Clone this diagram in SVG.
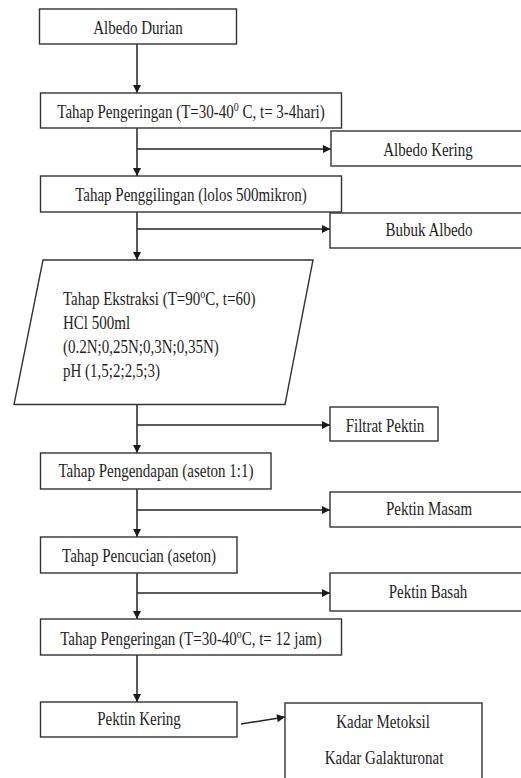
<svg xmlns="http://www.w3.org/2000/svg" width="521" height="778" viewBox="0 0 521 778">
<defs>
<marker id="ah" viewBox="0 0 10 10" refX="10" refY="5" markerWidth="9" markerHeight="8" markerUnits="userSpaceOnUse" orient="auto">
<path d="M0,0 L10,5 L0,10 Z" fill="#1a1a1a"/>
</marker>
</defs>
<style>
.b{fill:#fff;stroke:#333;stroke-width:1.4}
.c{fill:none;stroke:#222;stroke-width:1.5}
.a{marker-end:url(#ah)}
.t{font-family:"Liberation Serif","Times New Roman",serif;font-size:15px;fill:#1e1e1e;text-anchor:middle}
.l{text-anchor:start}
.s{font-size:10px}
</style>
<rect width="521" height="778" fill="#fff"/>
<g id="connectors">
<line class="c a" x1="137" y1="44" x2="137" y2="93"/>
<line class="c a" x1="137" y1="128" x2="137" y2="176"/>
<line class="c a" x1="137" y1="149" x2="331" y2="149"/>
<line class="c a" x1="137" y1="212" x2="137" y2="260"/>
<line class="c a" x1="137" y1="229" x2="330" y2="229"/>
<line class="c a" x1="137" y1="405" x2="137" y2="453"/>
<line class="c a" x1="137" y1="425" x2="330" y2="425"/>
<line class="c a" x1="137" y1="489" x2="137" y2="537"/>
<line class="c a" x1="137" y1="510" x2="330" y2="510"/>
<line class="c a" x1="137" y1="573" x2="137" y2="619"/>
<line class="c a" x1="137" y1="593" x2="330" y2="593"/>
<line class="c a" x1="137" y1="655" x2="137" y2="702"/>
<line class="c a" x1="241" y1="724" x2="285" y2="717"/>
</g>
<g id="n1"><rect class="b" x="39.5" y="9" width="197" height="35"/>
<text class="t" transform="translate(138 34) scale(1 1.25)">Albedo Durian</text></g>
<g id="n2"><rect class="b" x="40.5" y="93" width="301" height="35"/>
<text class="t" transform="translate(191 118) scale(1 1.25)">Tahap Pengeringan (T=30-40<tspan class="s" baseline-shift="super">0</tspan> C, t= 3-4hari)</text></g>
<g id="n3"><rect class="b" x="331" y="131" width="200" height="35"/>
<text class="t" transform="translate(428 156) scale(1 1.25)">Albedo Kering</text></g>
<g id="n4"><rect class="b" x="40.5" y="176" width="301" height="36"/>
<text class="t" transform="translate(191 201) scale(1 1.25)">Tahap Penggilingan (lolos 500mikron)</text></g>
<g id="n5"><rect class="b" x="330" y="213" width="200" height="35"/>
<text class="t" transform="translate(429 236) scale(1 1.25)">Bubuk Albedo</text></g>
<g id="n6"><polygon class="b" points="43,260 313,260 285,404.5 14,404.5"/>
<text class="t l" transform="translate(63 305) scale(1 1.25)">Tahap Ekstraksi (T=90<tspan class="s" baseline-shift="super">o</tspan>C, t=60)</text>
<text class="t l" transform="translate(63 329) scale(1 1.25)">HCl 500ml</text>
<text class="t l" transform="translate(63 353) scale(1 1.25)">(0.2N;0,25N;0,3N;0,35N)</text>
<text class="t l" transform="translate(63 377) scale(1 1.25)">pH (1,5;2;2,5;3)</text></g>
<g id="n7"><rect class="b" x="330" y="407" width="108" height="34"/>
<text class="t" transform="translate(385 432) scale(1 1.25)">Filtrat Pektin</text></g>
<g id="n8"><rect class="b" x="40.5" y="453" width="230.5" height="36"/>
<text class="t" transform="translate(156 477) scale(1 1.25)">Tahap Pengendapan (aseton 1:1)</text></g>
<g id="n9"><rect class="b" x="330" y="492" width="200" height="35"/>
<text class="t" transform="translate(429 515) scale(1 1.25)">Pektin Masam</text></g>
<g id="n10"><rect class="b" x="40.5" y="537" width="196.5" height="36"/>
<text class="t" transform="translate(139 562) scale(1 1.25)">Tahap Pencucian (aseton)</text></g>
<g id="n11"><rect class="b" x="330" y="573" width="200" height="38"/>
<text class="t" transform="translate(428 598) scale(1 1.25)">Pektin Basah</text></g>
<g id="n12"><rect class="b" x="40.5" y="619" width="301" height="36"/>
<text class="t" transform="translate(191 645) scale(1 1.25)">Tahap Pengeringan (T=30-40<tspan class="s" baseline-shift="super">o</tspan>C, t= 12 jam)</text></g>
<g id="n13"><rect class="b" x="40.5" y="702" width="196.5" height="35"/>
<text class="t" transform="translate(139 725) scale(1 1.25)">Pektin Kering</text></g>
<g id="n14"><rect class="b" x="285" y="703" width="197" height="100"/>
<text class="t" transform="translate(383 728) scale(1 1.25)">Kadar Metoksil</text>
<text class="t" transform="translate(384 764) scale(1 1.25)">Kadar Galakturonat</text></g>
</svg>
